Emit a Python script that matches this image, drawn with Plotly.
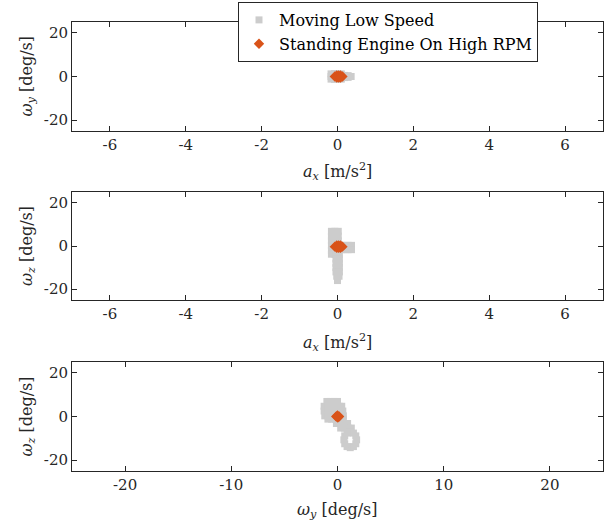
import plotly.graph_objects as go

# ---------------- data ----------------
# Panel 1: a_x [m/s^2] vs omega_y [deg/s]
p1_gray_x = [-0.17, -0.17, -0.17, -0.08, -0.08, -0.08, 0.01, 0.01, 0.01, 0.10, 0.10, 0.10, 0.19, 0.19, 0.28, 0.28, 0.36]
p1_gray_y = [-1.2, 0.0, 1.2, -1.3, 0.0, 1.3, -1.3, 0.0, 1.3, -1.2, 0.0, 1.2, -0.5, 0.5, -0.4, 0.4, 0.0]
p1_orng_x = [-0.07, -0.02, 0.03, 0.08, 0.13, -0.02, 0.03, 0.08, -0.02, 0.03, 0.08]
p1_orng_y = [0.0, 0.0, 0.0, 0.0, 0.0, 0.5, 0.5, 0.5, -0.5, -0.5, -0.5]

# Panel 2: a_x [m/s^2] vs omega_z [deg/s]
p2_gray_x = [-0.16, -0.07, 0.02, -0.16, -0.07, 0.02, -0.16, -0.07, 0.02, -0.16, -0.07, 0.02,
             -0.16, -0.07, 0.02, -0.16, -0.07,
             0.10, 0.19, 0.28, 0.37, 0.10, 0.19, 0.28, 0.37,
             -0.04, 0.05, -0.04, 0.05, -0.04, 0.05, -0.04, 0.05, -0.04, 0.05, -0.02, 0.04, 0.0]
p2_gray_y = [6.8, 6.8, 6.8, 4.6, 4.6, 4.6, 2.4, 2.4, 2.4, 0.2, 0.2, 0.2,
             -2.0, -2.0, -2.0, -3.8, -3.8,
             0.3, 0.3, 0.3, 0.3, -1.7, -1.7, -1.7, -1.7,
             -4.0, -4.0, -6.0, -6.0, -8.0, -8.0, -10.0, -10.0, -12.0, -12.0, -14.0, -14.0, -16.0]
p2_orng_x = [-0.07, -0.02, 0.03, 0.08, 0.13, -0.02, 0.03, 0.08, -0.02, 0.03, 0.08]
p2_orng_y = [-0.3, -0.3, -0.3, -0.3, -0.3, 0.2, 0.2, 0.2, -0.8, -0.8, -0.8]

# Panel 3: omega_y [deg/s] vs omega_z [deg/s]
p3_gray_x = [-1.0, -0.65, -0.3, 0.0,
             -1.26, -0.9, -0.55, -0.2, 0.15, 0.4,
             -1.26, -0.9, -0.55, -0.2, 0.15, 0.5,
             -1.2, -0.9, -0.55, -0.2, 0.15, 0.55,
             -0.9, -0.55, -0.2, 0.15, 0.55,
             -0.1, 0.25, 0.6, 0.95,
             0.3, 0.65, 1.0, 1.3,
             1.2, 1.5, 1.72, 1.8, 1.72, 1.5, 1.2, 0.9, 0.68, 0.6, 0.68, 0.9]
p3_gray_y = [6.9, 6.9, 6.9, 6.9,
             4.7, 4.7, 4.7, 4.7, 4.7, 4.7,
             2.5, 2.5, 2.5, 2.5, 2.5, 2.5,
             0.3, 0.3, 0.3, 0.3, 0.3, 0.3,
             -1.2, -1.2, -1.2, -1.2, -1.2,
             -3.2, -3.2, -3.2, -3.2,
             -5.3, -5.3, -5.3, -5.3,
             -7.1, -7.6, -8.9, -10.7, -12.5, -13.8, -14.3, -13.8, -12.5, -10.7, -8.9, -7.6]
p3_orng_x = [-0.12, 0.0, 0.15, 0.0, 0.03]
p3_orng_y = [0.0, 0.0, 0.0, 0.45, -0.45]

# Tick labels
ax_ticks = [-6, -4, -2, 0, 2, 4, 6]
ax_labels = ["-6", "-4", "-2", "0", "2", "4", "6"]
w_ticks_y = [-20, 0, 20]
w_labels_y = ["-20", "0", "20"]
wy_ticks_x = [-20, -10, 0, 10, 20]
wy_labels_x = ["-20", "-10", "0", "10", "20"]

series_names = ["Moving Low Speed", "Standing Engine On High RPM"]
ax_title = "<i>a</i><sub><i>x</i></sub> [m/s<sup>2</sup>]"
wy_title = "<i>ω</i><sub><i>y</i></sub> [deg/s]"
wz_title = "<i>ω</i><sub><i>z</i></sub> [deg/s]"

# ---------------- style ----------------
GRAY = "#cccccc"
ORANGE = "#d95319"
AX = "#262626"
FONT = "DejaVu Serif"

W, H = 614, 524
ML, MR, MT, MB = 72, 11, 22, 53
PW, PH = W - ML - MR, H - MT - MB


def px_to_paper_x(px):
    return (px - ML) / PW


def px_to_paper_y(py):
    return (H - MB - py) / PH


fig = go.Figure()

panels = [
    (p1_gray_x, p1_gray_y, p1_orng_x, p1_orng_y, "x", "y", True),
    (p2_gray_x, p2_gray_y, p2_orng_x, p2_orng_y, "x2", "y2", False),
    (p3_gray_x, p3_gray_y, p3_orng_x, p3_orng_y, "x3", "y3", False),
]
for gx, gy, ox, oy, xa, ya, show in panels:
    fig.add_trace(go.Scatter(x=gx, y=gy, mode="markers", xaxis=xa, yaxis=ya,
                             name=series_names[0], showlegend=show, legendgroup="g",
                             marker=dict(symbol="square", size=7, color=GRAY, line=dict(width=0))))
    fig.add_trace(go.Scatter(x=ox, y=oy, mode="markers", xaxis=xa, yaxis=ya,
                             name=series_names[1], showlegend=show, legendgroup="o",
                             marker=dict(symbol="diamond", size=8, color=ORANGE, line=dict(width=0))))

common = dict(showline=True, linecolor=AX, linewidth=1, mirror="ticks", ticks="inside",
              ticklen=5, tickcolor=AX, showgrid=False, zeroline=False,
              tickfont=dict(family=FONT, size=15, color=AX))

# panel pixel extents (top, bottom)
panel_px = [(22, 131), (192, 300), (362, 471)]
doms = [[px_to_paper_y(b), px_to_paper_y(t)] for t, b in panel_px]

tfont = dict(family=FONT, size=16, color=AX)
annotations = []
x_titles = [ax_title, ax_title, wy_title]
y_titles = [wy_title, wz_title, wz_title]
x_title_py = [172, 342, 510]
for i, (t, b) in enumerate(panel_px):
    annotations.append(dict(text=x_titles[i], xref="paper", yref="paper",
                            x=px_to_paper_x(337), y=px_to_paper_y(x_title_py[i]),
                            xanchor="center", yanchor="middle", showarrow=False, font=tfont))
    annotations.append(dict(text=y_titles[i], xref="paper", yref="paper",
                            x=px_to_paper_x(27), y=px_to_paper_y((t + b) / 2),
                            xanchor="center", yanchor="middle", textangle=-90,
                            showarrow=False, font=tfont))

fig.update_layout(
    width=W, height=H,
    margin=dict(l=ML, r=MR, t=MT, b=MB, autoexpand=False),
    paper_bgcolor="white", plot_bgcolor="white",
    font=dict(family=FONT, size=15, color=AX),
    showlegend=True,
    legend=dict(x=238 / W, y=1 - 2 / H, xref="container", yref="container",
                xanchor="left", yanchor="top",
                bgcolor="white", bordercolor=AX, borderwidth=1,
                font=dict(family=FONT, size=16, color="black"),
                tracegroupgap=0, itemsizing="trace"),
    annotations=annotations,
    xaxis=dict(domain=[0, 1], range=[-7, 7], tickvals=ax_ticks, ticktext=ax_labels, anchor="y", **common),
    yaxis=dict(domain=doms[0], range=[-25, 25], tickvals=w_ticks_y, ticktext=w_labels_y, anchor="x", **common),
    xaxis2=dict(domain=[0, 1], range=[-7, 7], tickvals=ax_ticks, ticktext=ax_labels, anchor="y2", **common),
    yaxis2=dict(domain=doms[1], range=[-25, 25], tickvals=w_ticks_y, ticktext=w_labels_y, anchor="x2", **common),
    xaxis3=dict(domain=[0, 1], range=[-25, 25], tickvals=wy_ticks_x, ticktext=wy_labels_x, anchor="y3", **common),
    yaxis3=dict(domain=doms[2], range=[-25, 25], tickvals=w_ticks_y, ticktext=w_labels_y, anchor="x3", **common),
)

fig.write_html("out.html", config={"displayModeBar": False},
               post_script="document.body.style.margin='0';")
